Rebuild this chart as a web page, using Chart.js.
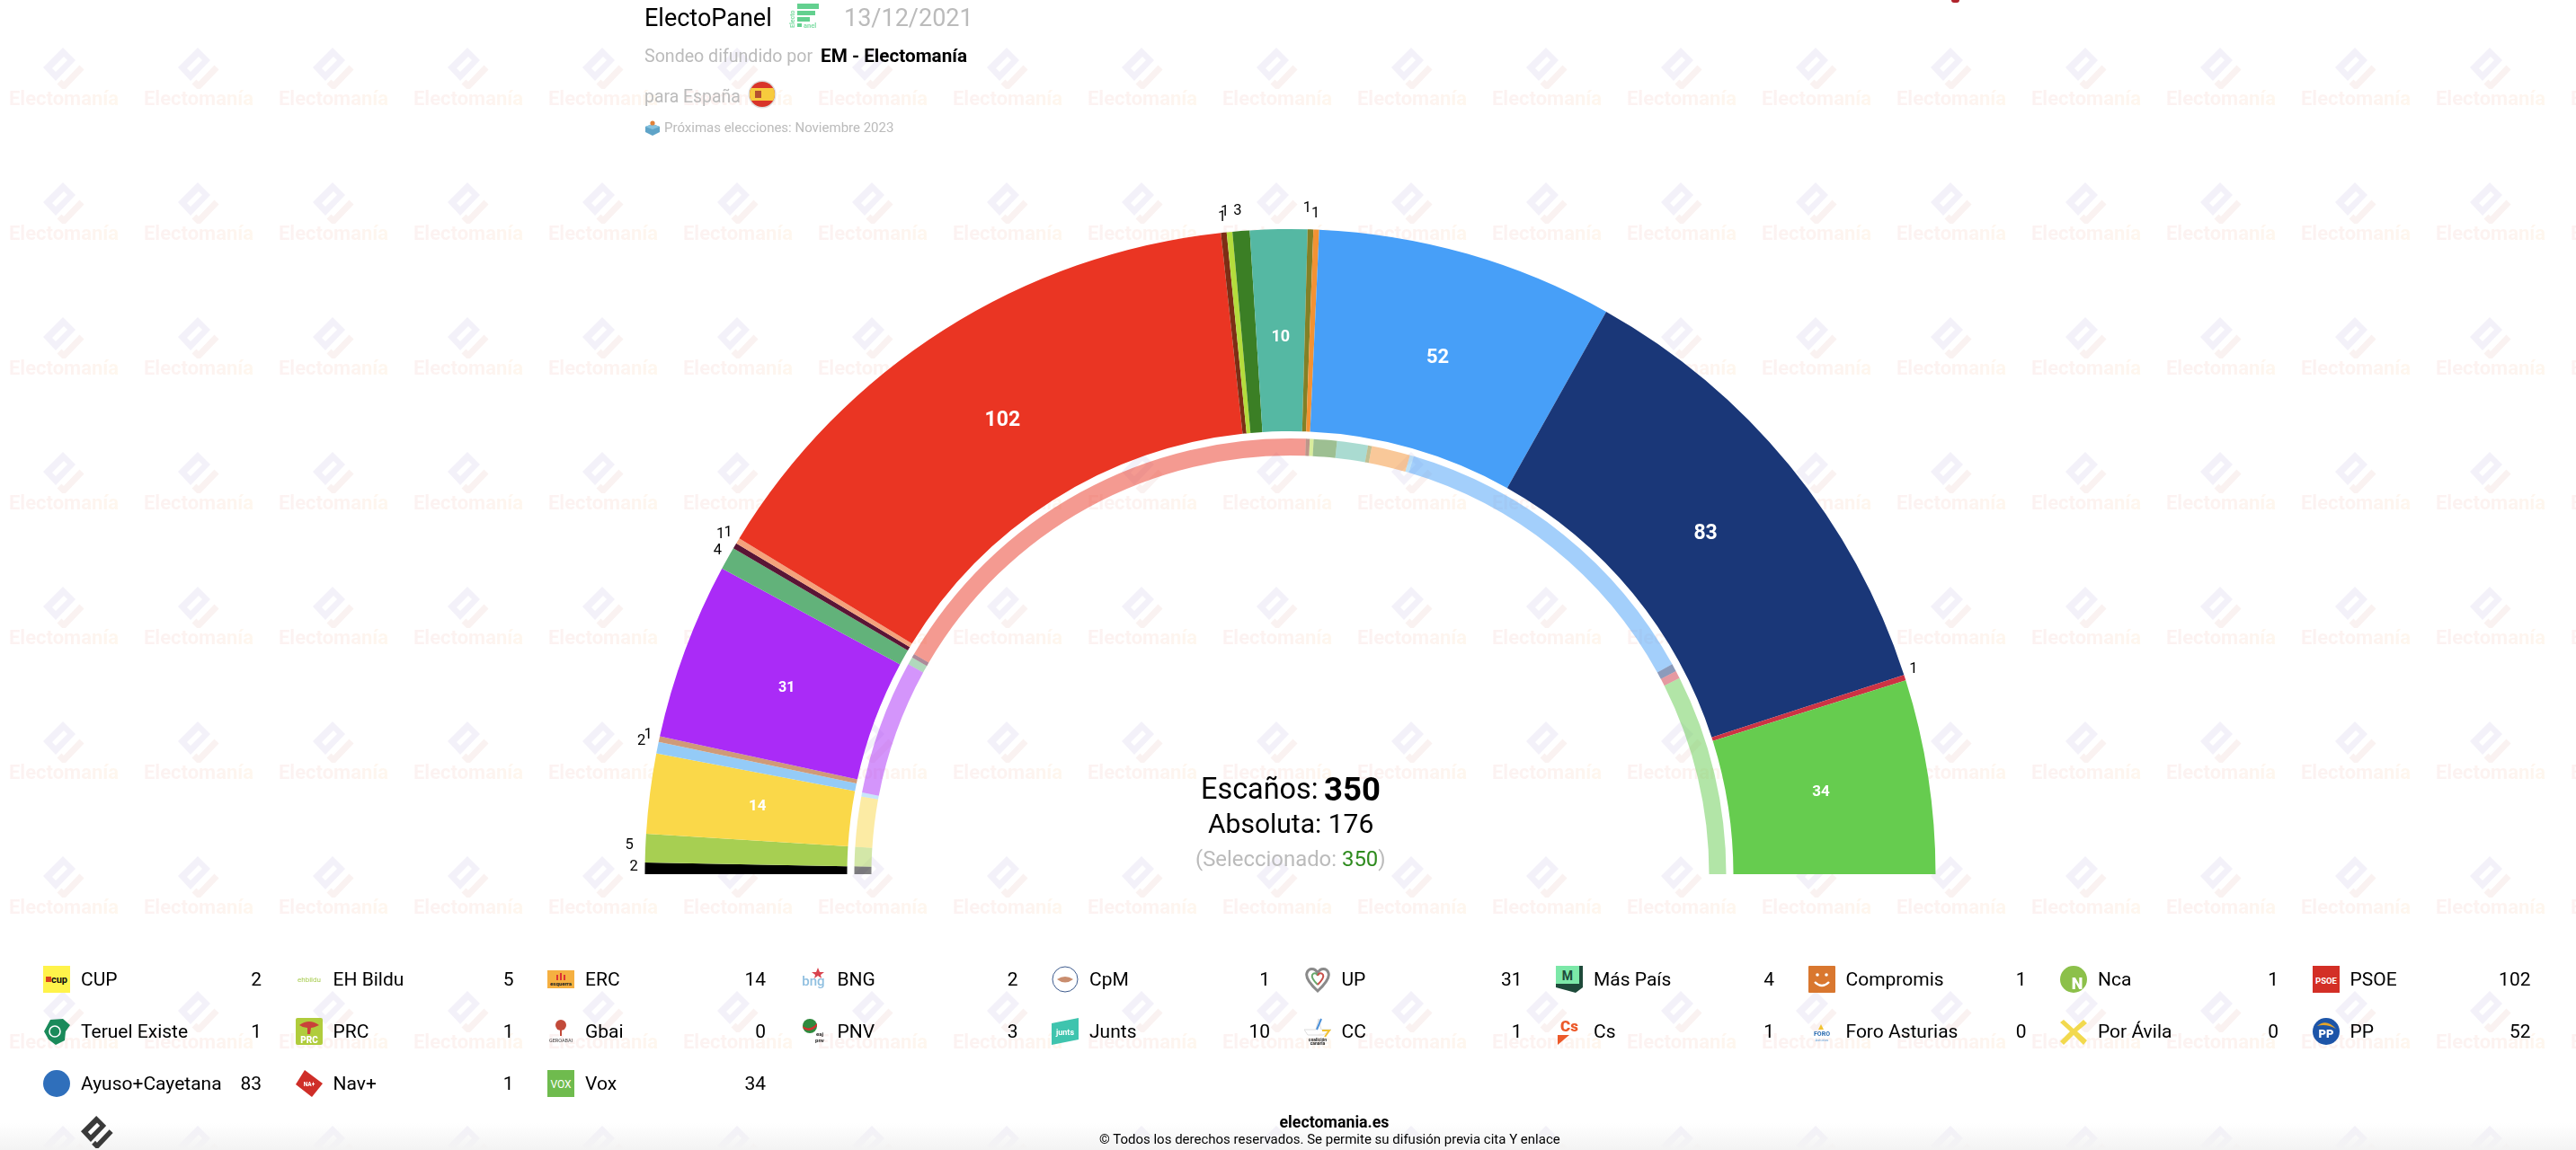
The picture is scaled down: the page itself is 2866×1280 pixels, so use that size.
<!DOCTYPE html>
<html lang="es">
<head>
<meta charset="utf-8">
<title>ElectoPanel 13/12/2021</title>
<script src="https://cdn.jsdelivr.net/npm/chart.js@4"></script>
<style>
html,body{margin:0;padding:0;background:#fff;width:2866px;height:1280px;overflow:hidden;font-family:Roboto,sans-serif;}
.abs{position:absolute;white-space:nowrap;}
#wm,#fx{position:absolute;left:0;top:0;width:2866px;height:1280px;overflow:hidden;}
#fade{position:absolute;left:0;top:1250px;width:2866px;height:30px;background:linear-gradient(#ffffff00,#f3f3f3);}
.wt{position:absolute;width:150px;text-align:center;font:700 22px/26px Roboto,sans-serif;background:linear-gradient(90deg,#fcf2f2,#fdf3f0 60%,#fff8ed);-webkit-background-clip:text;background-clip:text;color:transparent;}
canvas{position:absolute;left:0;top:0;}
.name{position:absolute;font:400 21px/30px Roboto,sans-serif;color:#000;white-space:nowrap;}
.val{position:absolute;font:400 21px/30px Roboto,sans-serif;color:#000;text-align:right;width:60px;}
.icon{position:absolute;width:30px;height:30px;}
.icon svg,.wi svg{display:block;}
</style>
</head>
<body>
<div id="wm"></div>
<div id="fade"></div>
<canvas id="c" width="2866" height="1280"></canvas>
<div id="fx"></div>
<script>
/* ---- data ---- */
const parties   = ["CUP","EH Bildu","ERC","BNG","CpM","UP","Más País","Compromis","Nca","PSOE","Teruel Existe","PRC","Gbai","PNV","Junts","CC","Cs","Foro Asturias","Por Ávila","PP","Ayuso+Cayetana","Nav+","Vox"];
const seats     = [2,5,14,2,1,31,4,1,1,102,1,1,0,3,10,1,1,0,0,52,83,1,34];
const prevSeats = [2,5,13,1,0,35,2,1,0,120,1,1,0,6,8,1,10,1,0,87,2,2,52];
const colors    = ["#000000","#a7cf52","#fad849","#94cbf7","#cf9a78","#aa2bf7","#62b27a","#5a1535","#f4a27c","#ea3523","#7c2e15","#b4dc3c","#b5332e","#3b7f25","#55b8a3","#838026","#f39233","#7cc4ee","#f2d94e","#479ff8","#1a3778","#cc3344","#66cc4f"];
const legendColumns = 10;
const totalSeats = "350", majority = "176", selected = "350";
/* label placement styling: radial gap beyond the ring (px) and angular nudge (deg) */
const labelGap   = [12.5,18,0,19,13,0,14,20,14,0,17.5,23,0,22,0,23,18,0,0,0,0,12,0];
const labelNudge = [.15,.2,0,.3,.2,0,.2,.2,.2,0,0,-.25,0,-.17,0,-.33,-.12,0,0,0,0,-.46,0];
const bigLabelPx = {10:18,14:17,31:16,34:17,52:22,83:23,102:23};

/* ---- watermark ---- */
function logoSvg(a,b,c,w){
  return `<svg width="${w}" height="${w}" viewBox="0 0 46 46"><polygon points="0,22 22,0 36,14 14,37" fill="${a}"/><polygon points="10,23 23,10 27,14 14,27" fill="${c}"/><polyline points="18,38 23,43 43,22" fill="none" stroke="${b}" stroke-width="7"/></svg>`;
}
const wm=document.getElementById('wm');
let wmHtml='';
for(let j=0;j<9;j++){for(let i=0;i<20;i++){
  const x=71+150*i,y=76+150*j;
  wmHtml+=`<div class="wi" style="position:absolute;left:${x-23}px;top:${y-23}px">${logoSvg('#f3f1f9','#faf2f1','#fff',46)}</div>`;
  wmHtml+=`<div class="wt" style="left:${x-75}px;top:${y+21}px">Electomanía</div>`;
}}
wm.innerHTML=wmHtml;

/* ---- icons (30x30 sketches of the party logos) ---- */
const T=(x,y,s,f,t,w,extra)=>`<text x="${x}" y="${y}" font-size="${s}" fill="${f}" font-weight="${w||700}" text-anchor="middle" font-family="Roboto" ${extra||''}>${t}</text>`;
const icons={
 "CUP":`<rect width="30" height="30" fill="#fff34a"/><rect x="3" y="12" width="6" height="6" fill="#d9431e"/>`+T(18,19,11,'#111','cup'),
 "EH Bildu":T(15,18,8,'#a8cc50','ehbildu',400),
 "ERC":`<rect y="5" width="30" height="20" fill="#f5b041"/><rect x="10" y="10" width="2" height="6" fill="#d33"/><rect x="14" y="8" width="2" height="8" fill="#d33"/><rect x="18" y="10" width="2" height="6" fill="#d33"/>`+T(15,22,6,'#222','esquerra'),
 "BNG":T(15,22,15,'#8fbfe0','bng',500)+`<polygon points="20,2 22,7 27,7 23,10 24,14 20,11 16,14 17,10 13,7 18,7" fill="#d9434e"/>`,
 "CpM":`<circle cx="15" cy="15" r="14" fill="#fff" stroke="#3c5a8c"/><path d="M6 15 Q15 9 24 15 Q15 22 6 15Z" fill="#c98d6e"/>`,
 "UP":`<path d="M15 28 C3 17 2 11 3 8 C5 2 12 2 15 8 C18 2 25 2 27 8 C28 11 27 17 15 28Z" fill="none" stroke="#8a8a8a" stroke-width="3"/><path d="M15 21 C9 15 8 12 9 10 C11 7 14 8 15 11" fill="none" stroke="#67a86c" stroke-width="2"/><path d="M15 21 C21 15 22 12 21 10 C19 7 16 8 15 11" fill="none" stroke="#c8504a" stroke-width="2"/>`,
 "Más País":`<polygon points="0,4 4,0 30,0 30,24 22,30 0,24" fill="#1e4a3a"/><rect x="0" y="0" width="26" height="20" fill="#7ce8a8"/>`+T(13,16,14,'#1e4a3a','M',700),
 "Compromis":`<rect width="30" height="30" rx="1" fill="#d9772f"/><circle cx="10" cy="10" r="1.8" fill="#fff"/><circle cx="20" cy="10" r="1.8" fill="#fff"/><path d="M7 18 Q15 26 23 18" fill="none" stroke="#fff" stroke-width="2.4"/>`,
 "Nca":`<circle cx="15" cy="15" r="15" fill="#8cc04a"/>`+T(19,26,18,'#fff','N',900),
 "PSOE":`<rect width="30" height="30" fill="#d32f26"/>`+T(15,20,9.5,'#fff','PSOE'),
 "Teruel Existe":`<path d="M8 2 L22 1 L30 8 L25 15 L24 25 L14 30 L6 24 L1 15 Z" fill="#1a8a5a"/><circle cx="13" cy="15" r="6" fill="none" stroke="#fff" stroke-width="1.6"/>`,
 "PRC":`<rect width="30" height="30" rx="2" fill="#b0cc3c"/><path d="M4 8 Q15 0 26 8 Q20 11 17 11 L16 18 L13 18 L13 11 Q8 11 4 8Z" fill="#c9413a"/>`+T(15,28,10,'#fff','PRC',900),
 "Gbai":`<circle cx="15" cy="8" r="6" fill="#c24a3a"/><rect x="14" y="12" width="2" height="8" fill="#c24a3a"/>`+T(15,27,5.5,'#444','GEROABAI',400),
 "PNV":`<circle cx="11" cy="9" r="8" fill="#2f8a3e"/><path d="M3 9 Q11 15 19 6 L19 9 Q12 17 4 12Z" fill="#d32f2f"/>`+T(22,20,6,'#222','eaj')+T(22,27,6,'#222','pnv'),
 "Junts":`<polygon points="0,6 30,0 30,24 0,30" fill="#3fc4ae"/>`+T(15,19,9,'#fff','junts'),
 "CC":`<polygon points="16,1 19,13 30,13 21,19 4,19 0,13 13,13" fill="none" stroke="#ddd" stroke-width="1"/><path d="M19 1 L14 13" stroke="#4a90d9" stroke-width="2"/><path d="M20 14 L28 14 L23 21" fill="none" stroke="#f2c230" stroke-width="2"/>`+T(15,26,5,'#222','coalición')+T(15,30,5,'#222','canaria'),
 "Cs":T(15,15,17,'#ec5a2a','Cs',900)+`<polygon points="2,19 15,19 2,30" fill="#ec5a2a"/>`,
 "Foro Asturias":`<path d="M14 7 L17 13 L11 13Z" fill="#f2c230"/>`+T(15,20,7,'#2b6cb0','FORO',700)+T(15,26,4,'#6ba4d8','Asturias',400),
 "Por Ávila":`<path d="M4 2 L15 12 L26 2 L30 6 L19 15 L30 25 L26 30 L15 19 L4 30 L0 26 L11 15 L0 5Z" fill="#f2d94e"/>`,
 "PP":`<circle cx="15" cy="15" r="15" fill="#1d55a8"/><path d="M5 9 Q15 0 26 12 Q15 6 5 9Z" fill="#e5a52a"/>`+T(15,22,13,'#fff','PP',900),
 "Ayuso+Cayetana":`<circle cx="15" cy="15" r="15" fill="#2f6fbb"/>`,
 "Nav+":`<polygon points="10,0 30,15 18,30 0,16" fill="#cf2e28"/>`+T(15,18,6.5,'#fff','NA+',800),
 "Vox":`<rect width="30" height="30" fill="#6fbb4e"/>`+T(15,20,12,'#fff','VOX',400)
};

/* ---- DOM text ---- */
const fx=document.getElementById('fx');
function put(x,cy,px,weight,color,txt,lh){
  const d=document.createElement('div');d.className='abs';
  const h=lh||Math.round(px*1.3);
  d.style.cssText=`left:${x}px;top:${cy-h/2}px;font:${weight} ${px}px/${h}px Roboto,sans-serif;color:${color};`;
  d.innerHTML=txt;fx.appendChild(d);return d;
}
put(717,20.5,27,400,'#000','ElectoPanel');
put(939,20.5,27,400,'#bbb','13/12/2021');
put(717,62,19.6,400,'#bbb','Sondeo difundido por');
put(913,62,20.7,700,'#000','EM - Electomanía');
put(717,107,19.4,400,'#bbb','para España');
put(739,142,15,400,'#bbb','Próximas elecciones: Noviembre 2023');
/* small header glyphs */
fx.insertAdjacentHTML('beforeend',`
<svg class="abs" style="left:878px;top:3px" width="35" height="29" viewBox="0 0 35 29"><rect x="9" y="1" width="24" height="6" fill="#63d08f"/><rect x="9" y="9" width="20" height="5" fill="#63d08f"/><rect x="9" y="16" width="14" height="5" fill="#63d08f"/><rect x="9" y="23" width="5" height="4" fill="#63d08f"/><text x="0" y="0" font-size="7" fill="#7fdca5" font-family="Roboto" font-weight="700" transform="translate(6,28) rotate(-90)">Electo</text><text x="16" y="28" font-size="7.5" fill="#7fdca5" font-family="Roboto" font-weight="700">anel</text></svg>
<svg class="abs" style="left:832px;top:89px" width="32" height="32" viewBox="0 0 32 32"><defs><clipPath id="fc"><circle cx="16" cy="16" r="14"/></clipPath></defs><circle cx="16" cy="16" r="15.5" fill="#ddd"/><g clip-path="url(#fc)"><rect width="32" height="32" fill="#d8352a"/><rect y="9" width="32" height="14" fill="#f7cb3d"/><rect x="8" y="12" width="7" height="8" fill="#b5502f"/></g></svg>
<svg class="abs" style="left:717px;top:133px" width="18" height="18" viewBox="0 0 18 18"><polygon points="9,5 17,8 17,14 9,18 1,14 1,8" fill="#5fa4c8"/><polygon points="9,5 17,8 9,11 1,8" fill="#86c3e0"/><circle cx="9" cy="4" r="2.6" fill="#e0823a"/></svg>
<div class="abs" style="left:2171px;top:0;width:9px;height:3px;border-radius:0 0 5px 5px;background:#b0242c"></div>
<div class="abs" style="left:90px;top:1242px">${logoSvg('#3a3a3a','#3a3a3a','#ffffff',36)}</div>`);

/* centre text */
put(1336,878,32.4,400,'#000','Escaños:');
put(1473,878,36.5,700,'#000',totalSeats);
put(1344,916,30,400,'#000','Absoluta: '+majority);
put(1330,956.5,23.9,400,'#bbb',`(Seleccionado: <span style="color:#2e8b1e">${selected}</span>)`);
/* footer */
put(1423.5,1248,17.8,700,'#000','electomania.es');
put(1223,1268,15,400,'#000','© Todos los derechos reservados. Se permite su difusión previa cita Y enlace');

/* legend */
const colX=i=>48+280.5*i, rowY=j=>1089.5+58*j;
parties.forEach((p,i)=>{
  const c=i%legendColumns,r=Math.floor(i/legendColumns),x=colX(c),cy=rowY(r);
  fx.insertAdjacentHTML('beforeend',
   `<div class="icon" style="left:${x}px;top:${cy-14.5}px"><svg width="30" height="30" viewBox="0 0 30 30">${icons[p]||''}</svg></div>`+
   `<div class="name" style="left:${x+42}px;top:${cy-15}px">${p}</div>`+
   `<div class="val" style="left:${x+183}px;top:${cy-15}px">${seats[i]}</div>`);
});

/* ---- chart ---- */
function alpha(hex,a){const n=parseInt(hex.slice(1),16);return `rgba(${n>>16},${(n>>8)&255},${n&255},${a})`;}
const seatLabels={id:'seatLabels',afterDatasetsDraw(chart){
  const ctx=chart.ctx,arcs=chart.getDatasetMeta(0).data;
  ctx.save();ctx.textAlign='center';ctx.textBaseline='middle';
  arcs.forEach((a,i)=>{
    const v=seats[i];if(!v)return;
    const {x,y,startAngle,endAngle,innerRadius,outerRadius}=a.getProps(['x','y','startAngle','endAngle','innerRadius','outerRadius'],true);
    let mid=(startAngle+endAngle)/2,r;
    if(bigLabelPx[v]){
      ctx.font=`700 ${bigLabelPx[v]}px Roboto`;ctx.fillStyle='#fff';
      r=(innerRadius+outerRadius)/2-8;
    }else{
      ctx.font='400 16.5px Roboto';ctx.fillStyle='#000';
      mid+=labelNudge[i]*Math.PI/180;r=outerRadius+labelGap[i];
    }
    ctx.fillText(String(v),x+r*Math.cos(mid),y+r*Math.sin(mid));
  });
  ctx.restore();
}};
new Chart(document.getElementById('c'),{
  type:'doughnut',
  data:{labels:parties,datasets:[
    {label:'Escaños',data:seats,backgroundColor:colors,borderWidth:0,weight:225},
    {label:'separación',data:[350],backgroundColor:['rgba(0,0,0,0)'],borderWidth:0,weight:8},
    {label:'Anterior',data:prevSeats,backgroundColor:colors.map(c=>alpha(c,.5)),borderWidth:0,weight:19}
  ]},
  options:{
    responsive:false,animation:false,rotation:-90,circumference:180,cutout:'64.903%',
    layout:{padding:{left:717.5,right:712.5,top:255,bottom:307}},
    plugins:{legend:{display:false},tooltip:{enabled:false}},
    events:[]
  },
  plugins:[seatLabels]
});
</script>
</body>
</html>
